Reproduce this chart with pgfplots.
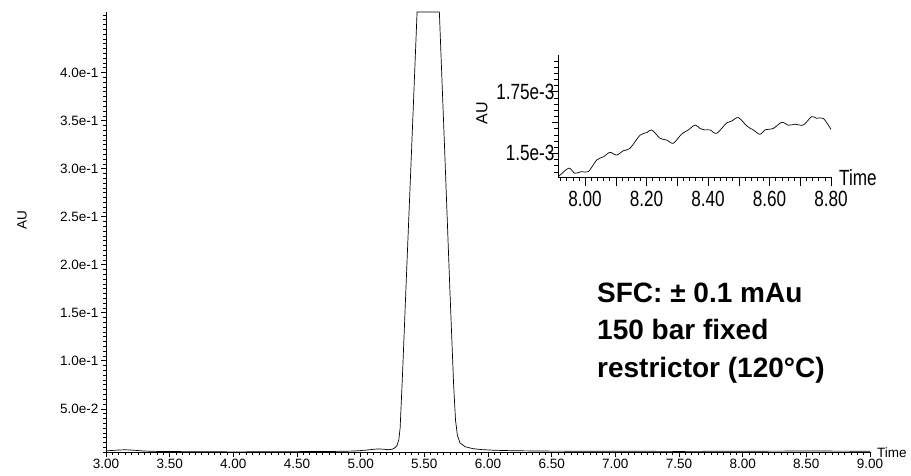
\documentclass[border=0pt]{standalone}
\usepackage{fontspec}
\setmainfont{Liberation Sans}
\usepackage{graphicx}
\usepackage{pgfplots}
\pgfplotsset{compat=1.18}
\usepackage{pgfplotstable}

\pgfplotstableread{
x y
3.00 0.0062
3.05 0.0066
3.10 0.0071
3.15 0.0073
3.20 0.0070
3.30 0.0060
3.40 0.0056
3.60 0.0054
3.80 0.0053
4.00 0.0051
4.20 0.0052
4.50 0.0054
4.80 0.0056
4.95 0.0060
5.05 0.0070
5.10 0.0078
5.14 0.0082
5.18 0.0079
5.22 0.0074
5.25 0.0080
5.27 0.0095
5.285 0.0115
5.30 0.018
5.31 0.030
5.33 0.090
5.36 0.190
5.40 0.320
5.443 0.463
5.618 0.463
5.66 0.318
5.70 0.176
5.73 0.075
5.745 0.038
5.76 0.022
5.78 0.0145
5.82 0.0105
5.88 0.0085
5.95 0.0075
6.05 0.0068
6.20 0.0063
6.50 0.0059
7.00 0.0058
7.50 0.0056
8.00 0.0058
8.50 0.0060
8.80 0.0059
9.00 0.0058
}\maintable

% inset values in units of 1e-3 AU
\pgfplotstableread{
x y
7.913 1.405
7.940 1.435
7.951 1.439
7.967 1.419
7.989 1.426
8.011 1.426
8.038 1.473
8.060 1.486
8.081 1.504
8.103 1.493
8.125 1.511
8.146 1.520
8.179 1.574
8.201 1.584
8.217 1.595
8.244 1.561
8.266 1.554
8.287 1.541
8.314 1.578
8.336 1.595
8.358 1.615
8.374 1.601
8.390 1.595
8.407 1.595
8.428 1.581
8.461 1.624
8.477 1.631
8.499 1.645
8.526 1.611
8.547 1.595
8.569 1.577
8.585 1.595
8.612 1.601
8.640 1.626
8.661 1.614
8.683 1.618
8.710 1.615
8.737 1.649
8.753 1.642
8.775 1.642
8.800 1.597
}\insettable

\newcommand{\nar}[1]{\scalebox{0.78}[1]{#1}}

\begin{document}
\begin{tikzpicture}[x=1pt,y=1pt]
\useasboundingbox (0,0) rectangle (911,476);
\begin{axis}[
  at={(106pt,24pt)}, anchor=south west,
  scale only axis, width=764pt, height=440pt,
  xmin=3, xmax=9, ymin=0.005, ymax=0.463,
  axis lines*=left,
  axis line style={line width=0.6pt},
  clip=false,
  tick align=outside,
  tick style={black, line width=0.5pt},
  major tick length=5pt, minor tick length=3pt,
  xtick={3,3.5,4,4.5,5,5.5,6,6.5,7,7.5,8,8.5,9},
  xticklabels={3.00,3.50,4.00,4.50,5.00,5.50,6.00,6.50,7.00,7.50,8.00,8.50,9.00},
  minor xtick={3,3.05,...,9.01},
  ytick={0.05,0.1,0.15,0.2,0.25,0.3,0.35,0.4},
  yticklabels={5.0e-2,1.0e-1,1.5e-1,2.0e-1,2.5e-1,3.0e-1,3.5e-1,4.0e-1},
  minor ytick={0.005,0.01,...,0.461},
  ticklabel style={font=\fontsize{13.5}{15}\selectfont},
  xticklabel style={yshift=1pt},
  yticklabel style={xshift=1pt},
]
\addplot[black, line width=0.7pt] table[x=x,y=y] {\maintable};
\end{axis}
\node[anchor=base west, inner sep=0, font=\fontsize{13.5}{15}\selectfont] at (877,18) {Time};
\node[rotate=90, inner sep=0, font=\fontsize{13.5}{15}\selectfont] at (22,256) {AU};

\begin{axis}[
  at={(558pt,299pt)}, anchor=south west,
  scale only axis, width=273pt, height=122pt,
  xmin=7.912, xmax=8.80, ymin=1.404, ymax=1.899,
  axis lines*=left,
  axis line style={line width=0.6pt},
  tick align=outside,
  tick style={black, line width=0.5pt},
  major tick length=9pt, minor tick length=4.5pt,
  xtick={8,8.2,8.4,8.6,8.8},
  xticklabels={\nar{8.00},\nar{8.20},\nar{8.40},\nar{8.60},\nar{8.80}},
  extra x ticks={8.1,8.3,8.5,8.7},
  extra x tick labels={},
  minor xtick={7.92,7.94,...,8.81},
  ytick={1.5,1.75},
  yticklabels={\nar{1.5e-3},\nar{1.75e-3}},
  extra y ticks={1.625},
  extra y tick labels={},
  extra y tick style={major tick length=6pt},
  minor ytick={1.425,1.45,...,1.9},
  ticklabel style={font=\fontsize{22}{24}\selectfont},
  xticklabel style={yshift=-2pt},
  yticklabel style={xshift=9pt},
]
\addplot[black, line width=0.7pt, smooth, tension=0.5] table[x=x,y=y] {\insettable};
\end{axis}
\node[anchor=base west, inner sep=0, font=\fontsize{22}{24}\selectfont] at (839,290) {\nar{Time}};
\node[rotate=90, inner sep=0, font=\fontsize{16}{18}\selectfont] at (482,363) {AU};

\node[anchor=base west, inner sep=0, font=\bfseries\fontsize{28}{34}\selectfont] at (597,173) {SFC: ± 0.1 mAu};
\node[anchor=base west, inner sep=0, font=\bfseries\fontsize{28}{34}\selectfont] at (597,136) {150 bar fixed};
\node[anchor=base west, inner sep=0, font=\bfseries\fontsize{28}{34}\selectfont] at (597,98) {restrictor (120°C)};
\end{tikzpicture}
\end{document}
